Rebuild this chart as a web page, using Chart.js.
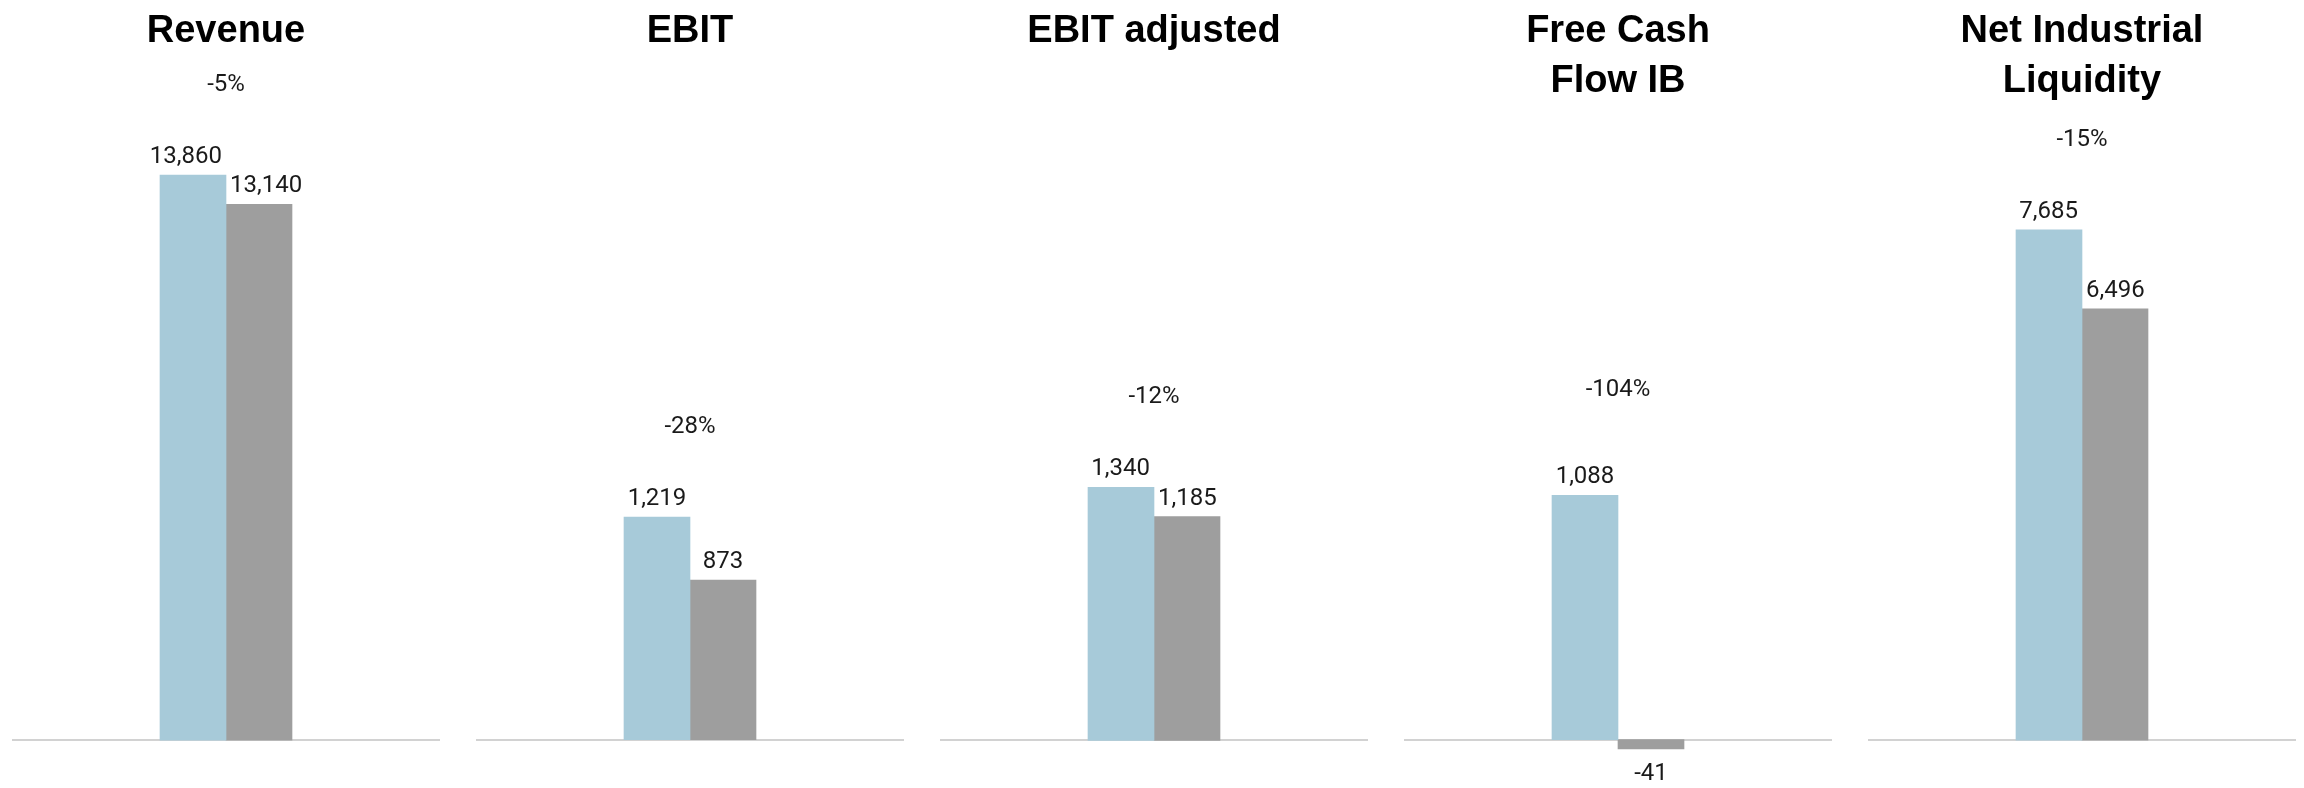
<!DOCTYPE html>
<html>
<head>
<meta charset="utf-8">
<script src="https://cdn.jsdelivr.net/npm/chart.js@4"></script>
<style>
html,body{margin:0;padding:0;background:#fff;}
body{width:2304px;height:788px;position:relative;overflow:hidden;font-family:Roboto,sans-serif;}
.pnl{position:absolute;top:0;width:464px;height:788px;}
.pnl canvas{position:absolute;left:0;top:0;}
.ttl{position:absolute;left:0;right:0;top:4px;text-align:center;font:bold 38px/50px "Liberation Sans",Arial,sans-serif;color:#000;}
</style>
</head>
<body>
<script>
const TITLES = [['Revenue'],['EBIT'],['EBIT adjusted'],['Free Cash','Flow IB'],['Net Industrial','Liquidity']];
const PREV = [13860, 1219, 1340, 1088, 7685];
const CURR = [13140, 873, 1185, -41, 6496];
const CHANGE = ['-5%','-28%','-12%','-104%','-15%'];
const Y_MIN = [-980, -220, -210, -180, -600];
const Y_MAX = [15700, 3500, 3390, 2850, 9640];

const BLUE = '#a7cad9', GREY = '#9e9e9e';
const PCT_GAP = [84, 84, 84, 99, 84];

const fmt = v => v.toLocaleString('en-US');

const labelsPlugin = {
  id:'labels',
  beforeDatasetsDraw(c){
    const {ctx, chartArea:a, scales:{y}} = c;
    const y0 = Math.round(y.getPixelForValue(0));
    ctx.save();
    ctx.strokeStyle = '#d2d2d2'; ctx.lineWidth = 2;
    ctx.beginPath(); ctx.moveTo(a.left, y0); ctx.lineTo(a.right, y0); ctx.stroke();
    ctx.restore();
  },
  afterDatasetsDraw(c, args, o){
    const {ctx} = c;
    ctx.save();
    ctx.font = '24px Roboto'; ctx.fillStyle = '#1a1a1a';
    ctx.textAlign = 'center'; ctx.textBaseline = 'alphabetic';
    const bars = c.data.datasets.map((ds,i)=>{
      const bar = c.getDatasetMeta(i).data[0];
      const v = ds.data[0];
      return {v, txt:fmt(v), x:bar.x, y:bar.y, base:bar.base, w:ctx.measureText(fmt(v)).width};
    });
    // push the two value labels apart when they are too wide for the bars
    const need = (bars[0].w + bars[1].w)/2 + 8;
    const push = Math.max(0, (need - (bars[1].x - bars[0].x))/2);
    bars[0].x -= push; bars[1].x += push;
    let top = Infinity;
    bars.forEach(b=>{
      ctx.fillText(b.txt, b.x, b.v >= 0 ? b.y - 12 : b.y + 31);
      top = Math.min(top, b.y, b.base);
    });
    ctx.fillText(o.change, (bars[0].x + bars[1].x)/2, top - o.gap);
    ctx.restore();
  }
};

TITLES.forEach((t,i)=>{
  const pnl = document.createElement('div');
  pnl.className = 'pnl';
  pnl.style.left = (-6 + 464*i) + 'px';
  pnl.innerHTML = `<canvas width="464" height="788"></canvas><div class="ttl">${t.join('<br>')}</div>`;
  document.body.appendChild(pnl);
  new Chart(pnl.querySelector('canvas').getContext('2d'),{
    type:'bar',
    data:{
      labels:[''],
      datasets:[
        {data:[PREV[i]], backgroundColor:BLUE},
        {data:[CURR[i]], backgroundColor:GREY}
      ]
    },
    options:{
      responsive:false,
      animation:false,
      devicePixelRatio:1,
      layout:{padding:{left:18, right:18, top:100, bottom:8}},
      datasets:{bar:{barThickness:66, borderWidth:0}},
      scales:{
        x:{display:false},
        y:{display:false, min:Y_MIN[i], max:Y_MAX[i]}
      },
      plugins:{
        legend:{display:false},
        tooltip:{enabled:false},
        labels:{change:CHANGE[i], gap:PCT_GAP[i]}
      }
    },
    plugins:[labelsPlugin]
  });
});
</script>
</body>
</html>
